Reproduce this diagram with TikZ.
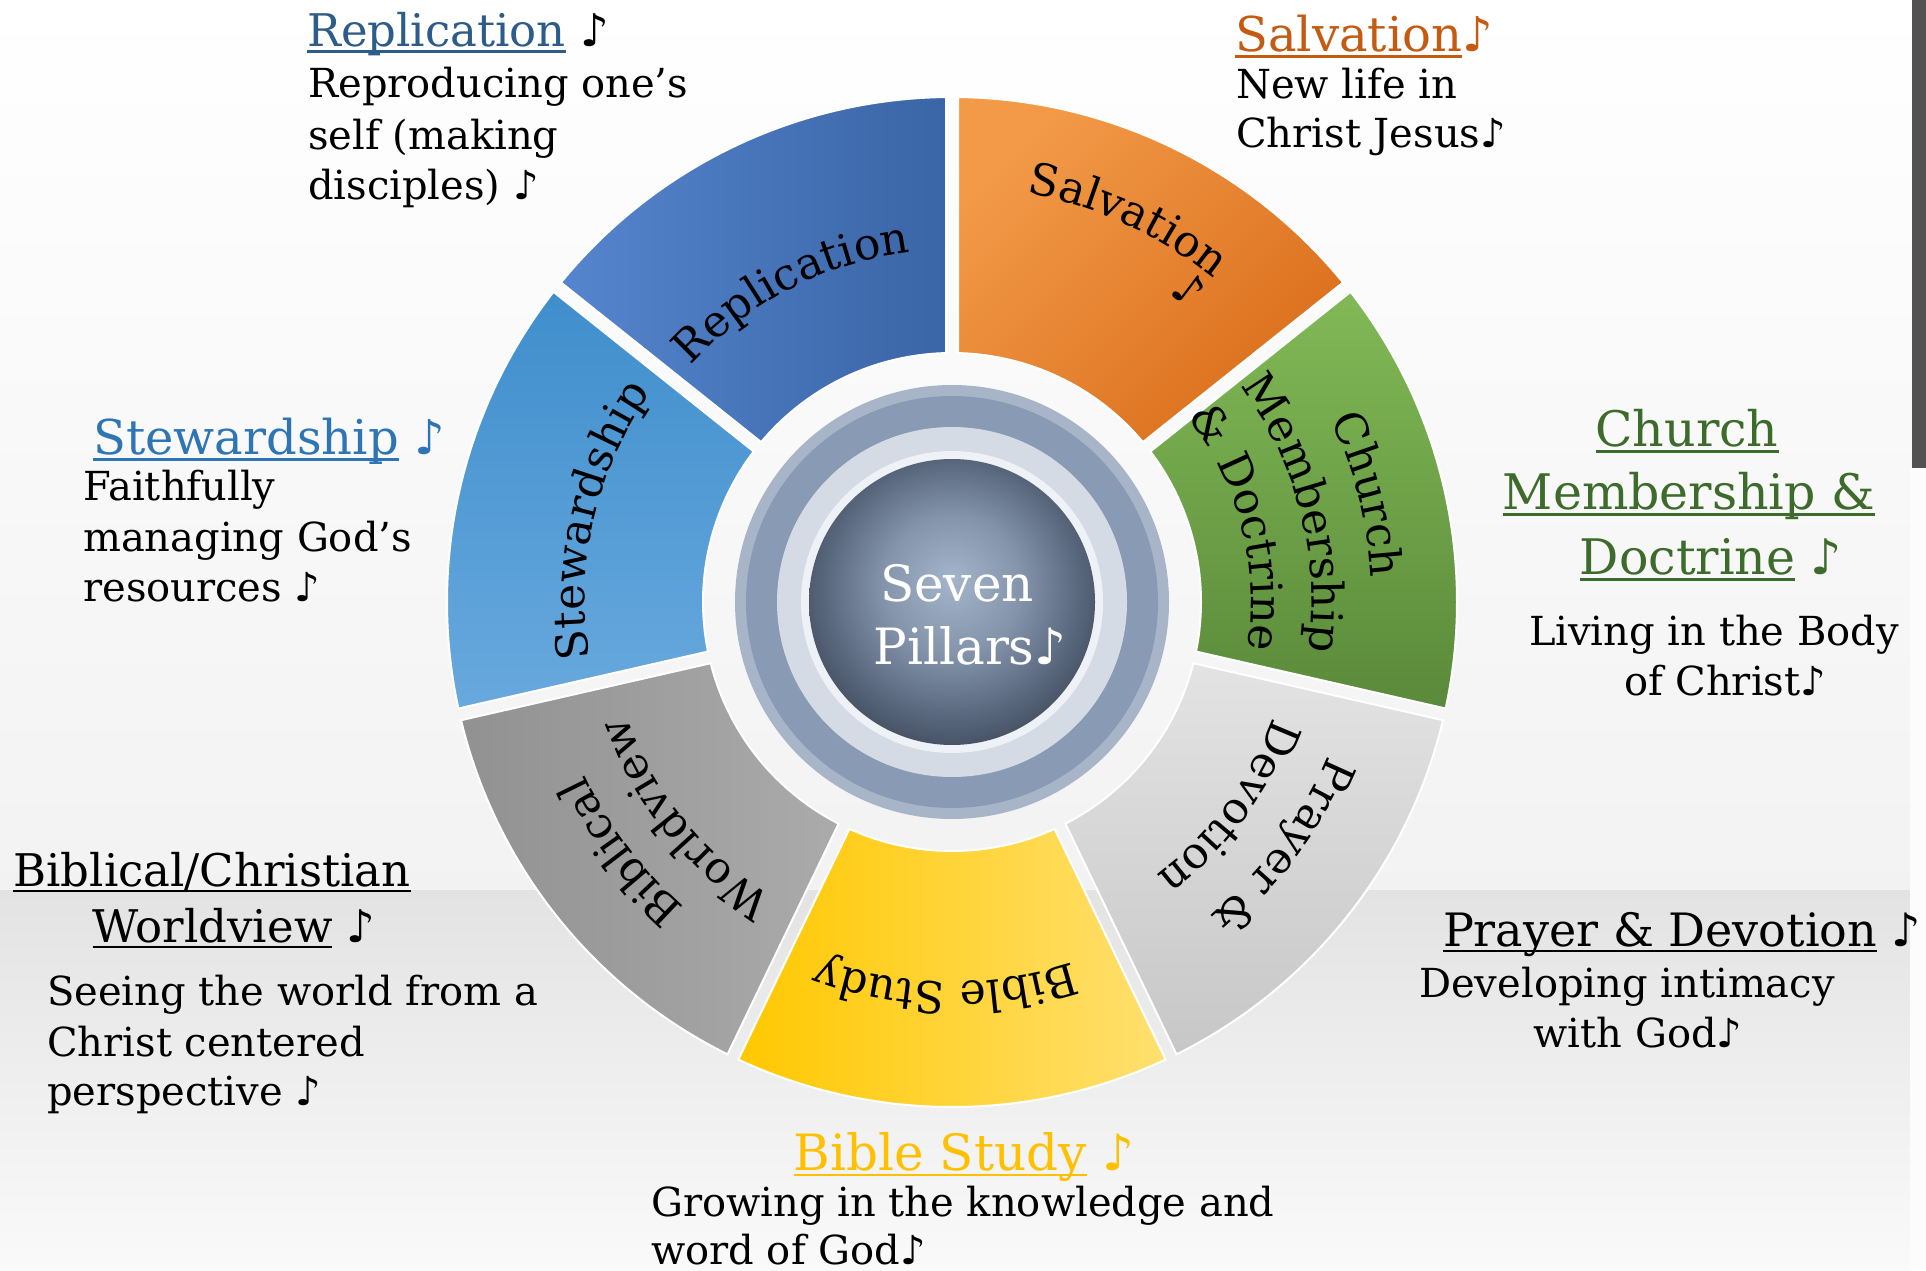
\documentclass[tikz,border=0pt]{standalone}
\usepackage{fontspec}
\setmainfont{DejaVu Serif}
\newfontfamily\notefont{DejaVu Sans}
\usetikzlibrary{calc,decorations.text}
\definecolor{repC}{HTML}{2E5C8A}
\definecolor{salC}{HTML}{C55A11}
\definecolor{chC}{HTML}{3D6B2B}
\definecolor{bibC}{HTML}{FFC000}
\definecolor{stwC}{HTML}{2E75B6}
\definecolor{ballA}{HTML}{A4B4CA}
\definecolor{ballB}{HTML}{8494AB}
\definecolor{ballC}{HTML}{56647A}
\definecolor{ballD}{HTML}{2A3038}
\definecolor{ballE}{HTML}{15181D}
\pgfdeclareradialshading{ball}{\pgfpoint{0bp}{4bp}}{color(0bp)=(ballA); color(12bp)=(ballB); color(23bp)=(ballC); color(35bp)=(ballD); color(45bp)=(ballE); color(50bp)=(ballE)}
\newcommand\nt{{\notefont ♪}}
\newcommand\fHead[1]{\fontsize{#1}{52}\selectfont}
\newcommand\fBody{\fontsize{40}{51}\selectfont}
\newcommand\fSeg{\fontsize{44}{50}\selectfont}
\newcommand\fCtr{\fontsize{50}{60}\selectfont}
\newsavebox\ulbox
\newcommand\myul[1]{\sbox\ulbox{#1}\rlap{\rule[-6pt]{\wd\ulbox}{2.5pt}}\usebox\ulbox}
\newcommand\seg[3]{%
  \shadedraw[#3, draw=white, line width=2pt]
    ($(C)+(#1+0.68:505pt)$) arc[start angle=#1+0.68, end angle=#2-0.68, radius=505pt]
    -- ($(C)+(#2-1.38:249pt)$) arc[start angle=#2-1.38, end angle=#1+1.38, radius=249pt] -- cycle;}
\newcommand\arctext[3]{%
  \path[decorate, decoration={text along path, text align=center, text={|\fSeg|#3}}]
    ($(C)+(#1+50:#2pt)$) arc[start angle=#1+50, end angle=#1-50, radius=#2pt];}
\tikzset{
  hd/.style={inner sep=0pt, font=\fHead{#1}},
  bd/.style={inner sep=0pt, font=\fBody, text=black},
}
\begin{document}
\begin{tikzpicture}[x=1pt, y=1pt]
\useasboundingbox (0,0) rectangle (1926,1270);
% background
\shade[top color=white, bottom color=black!5] (0,380) rectangle (1926,1270);
\shade[top color=black!11, bottom color=black!2] (0,0) rectangle (1910,380);
\fill[black!1] (1910,0) rectangle (1926,802);
\fill[black!68] (1912,802) rectangle (1926,1270);
\coordinate (C) at (952,668);
% segments
\seg{38.571}{90}{top color={rgb,255:red,242;green,154;blue,72}, bottom color={rgb,255:red,218;green,110;blue,28}, shading angle=45}
\seg{90}{141.429}{left color={rgb,255:red,85;green,133;blue,206}, right color={rgb,255:red,58;green,101;blue,166}}
\seg{141.429}{192.857}{top color={rgb,255:red,63;green,142;blue,204}, bottom color={rgb,255:red,104;green,169;blue,222}}
\seg{192.857}{244.286}{left color=black!43, right color=black!33}
\seg{244.286}{295.714}{left color={rgb,255:red,255;green,200;blue,0}, right color={rgb,255:red,255;green,224;blue,112}}
\seg{295.714}{347.143}{top color=black!11, bottom color=black!22}
\seg{-12.857}{38.571}{top color={rgb,255:red,130;green,185;blue,86}, bottom color={rgb,255:red,90;green,138;blue,58}}
% center rings
\fill[fill={rgb,255:red,168;green,180;blue,200}] (C) circle[radius=217pt];
\fill[fill={rgb,255:red,137;green,154;blue,181}] (C) circle[radius=206pt];
\fill[fill={rgb,255:red,213;green,219;blue,228}] (C) circle[radius=175pt];
\fill[fill={rgb,255:red,238;green,241;blue,246}] (C) circle[radius=151pt];
\shade[shading=ball] (C) circle[radius=143pt];
\node[inner sep=0pt, font=\fCtr, text=white, anchor=base] (sv1) at (957,668) {Seven};
\node[inner sep=0pt, font=\fCtr, text=white, anchor=base] (sv2) at (970,605) {Pillars\nt};
% segment labels
\arctext{65.3}{416}{Salvation}
\node[font=\fSeg, rotate=-37, inner sep=0pt] (salnote) at (1189,981) {\nt};
\arctext{117.3}{352}{Replication}
\arctext{167}{367}{Stewardship}
\arctext{14.5}{420}{Church}
\arctext{14.5}{360}{Membership}
\arctext{14.5}{299}{{\&} Doctrine}
\arctext{-36.5}{406}{Prayer {\&}}
\arctext{-36.5}{341}{Devotion}
\arctext{-91}{380}{Bible Study}
\arctext{-143}{406}{Biblical}
\arctext{-141}{345}{Worldview}
% Replication
\node[hd=45, anchor=base west] (reph) at (307,1223) {{\color{repC}\myul{Replication}} \nt};
\node[bd, anchor=base west] (rep1) at (308,1172) {Reproducing one’s};
\node[bd, anchor=base west] (rep2) at (308,1120) {self (making};
\node[bd, anchor=base west] (rep3) at (308,1070) {disciples) \nt};
% Salvation
\node[hd=48, anchor=base west, text=salC] (salh) at (1235,1218) {\myul{Salvation}\nt};
\node[bd, anchor=base west] (sal1) at (1236,1171) {New life in};
\node[bd, anchor=base west] (sal2) at (1236,1122) {Christ Jesus\nt};
% Church
\node[hd=49, anchor=base, text=chC] (chh1) at (1687,823) {\myul{Church}};
\node[hd=49, anchor=base, text=chC] (chh2) at (1689,760) {\myul{Membership \&}};
\node[hd=49, anchor=base, text=chC] (chh3) at (1711,695) {\myul{Doctrine} \nt};
\node[bd, anchor=base] (ch1) at (1714,624) {Living in the Body};
\node[bd, anchor=base] (ch2) at (1725,574) {of Christ\nt};
% Prayer
\node[hd=46, anchor=base] (prh) at (1682,324) {\myul{Prayer \& Devotion} \nt};
\node[bd, anchor=base] (pr1) at (1627,273) {Developing intimacy};
\node[bd, anchor=base] (pr2) at (1638,223) {with God\nt};
% Bible Study
\node[hd=50, anchor=base, text=bibC] (bsh) at (964,100) {\myul{Bible Study} \nt};
\node[bd, anchor=base west] (bs1) at (651,54) {Growing in the knowledge and};
\node[bd, anchor=base west] (bs2) at (651,6) {word of God\nt};
% Biblical worldview
\node[hd=45, anchor=base] (bwh1) at (212,384) {\myul{Biblical/Christian}};
\node[hd=45, anchor=base] (bwh2) at (234,328) {\myul{Worldview} \nt};
\node[bd, anchor=base west] (bw1) at (47,265) {Seeing the world from a};
\node[bd, anchor=base west] (bw2) at (47,214) {Christ centered};
\node[bd, anchor=base west] (bw3) at (47,165) {perspective \nt};
% Stewardship
\node[hd=48, anchor=base west, text=stwC] (sth) at (93,815) {\myul{Stewardship} \nt};
\node[bd, anchor=base west] (st1) at (83,769) {Faithfully};
\node[bd, anchor=base west] (st2) at (83,718) {managing God’s};
\node[bd, anchor=base west] (st3) at (83,668) {resources \nt};
\end{tikzpicture}
\end{document}
